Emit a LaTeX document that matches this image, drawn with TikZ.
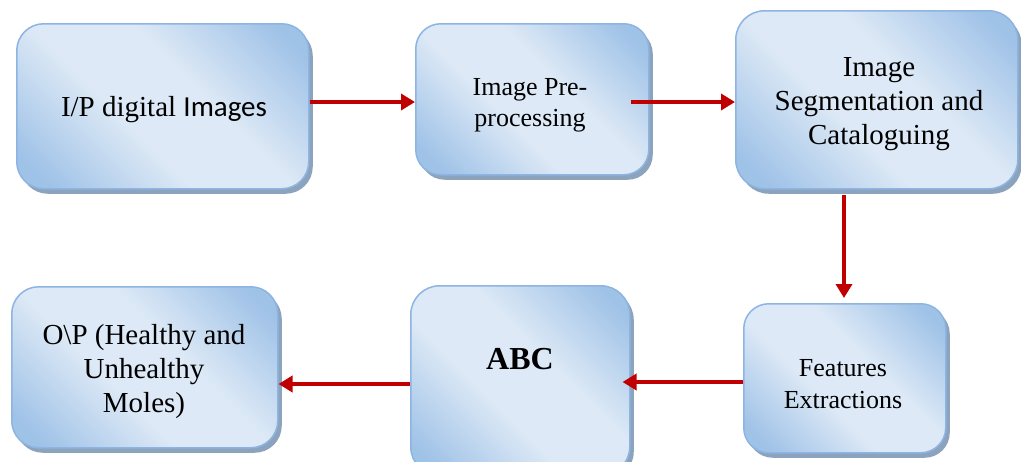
\documentclass[tikz,border=0pt]{standalone}
\usepackage{fontspec}
\setmainfont{Liberation Serif}
\newfontfamily\calibfont{Carlito}
\usetikzlibrary{shadows,arrows.meta}
\definecolor{bdark}{HTML}{9FC2E7}
\definecolor{blight}{HTML}{DDE9F6}
\definecolor{bborder}{HTML}{8DB4E2}
\definecolor{bshadow}{HTML}{8CA3BD}
\definecolor{arrred}{HTML}{C00000}
\pgfdeclarehorizontalshading{boxshade}{100bp}{color(0bp)=(bdark); color(20bp)=(bdark); color(42bp)=(blight); color(58bp)=(blight); color(80bp)=(bdark); color(100bp)=(bdark)}
\tikzset{
  procbox/.style={draw=bborder, line width=1.5pt, rounded corners=27pt,
    shading=boxshade, shading angle=45, anchor=north west, inner sep=0pt,
    drop shadow={shadow xshift=4pt, shadow yshift=-5pt, fill=bshadow, opacity=1}},
  boxtext/.style={align=center, inner sep=0pt},
  flow/.style={draw=arrred, line width=4.5pt, -{Triangle[length=14pt,width=16pt]}},
}
\begin{document}
\begin{tikzpicture}[x=1pt,y=-1pt]
\useasboundingbox (0,0) rectangle (1021,461);
\node[procbox, minimum width=292pt, minimum height=165pt] (b1) at (16,23) {};
\node[procbox, minimum width=233pt, minimum height=151pt, rounded corners=25pt] (b2) at (415,23) {};
\node[procbox, minimum width=282pt, minimum height=178pt, rounded corners=29pt] (b3) at (735,10) {};
\node[procbox, minimum width=202pt, minimum height=149pt, rounded corners=25pt] (b4) at (743,303) {};
\node[procbox, minimum width=219pt, minimum height=190pt, rounded corners=29pt] (b5) at (410,285) {};
\node[procbox, minimum width=266pt, minimum height=161pt] (b6) at (11,286) {};

\node[boxtext, font=\fontsize{29}{34}\selectfont] (t1) at (164,110) {I/P digital {\calibfont Images}};
\node[boxtext, font=\fontsize{26}{31}\selectfont] (t2) at (530,105) {Image Pre-\\processing};
\node[boxtext, font=\fontsize{29}{34}\selectfont] (t3) at (879,104) {Image\\Segmentation and\\Cataloguing};
\node[boxtext, font=\fontsize{26}{32}\selectfont] (t4) at (843,384) {Features\\Extractions};
\node[boxtext, font=\fontsize{32}{38}\selectfont\bfseries] (t5) at (520,359) {ABC};
\node[boxtext, font=\fontsize{29}{34}\selectfont] (t6) at (144,372) {O\textbackslash P (Healthy and\\Unhealthy\\Moles)};

\draw[flow] (b1.east |- 0,102) -- (b2.west |- 0,102);
\draw[flow] ([xshift=-19pt]b2.east |- 0,102) -- (b3.west |- 0,102);
\draw[flow] ([yshift=-5pt]b3.south -| 844,0) -- ([yshift=5pt]b4.north -| 844,0);
\draw[flow] (b4.west |- 0,382) -- ([xshift=-8pt]b5.east |- 0,382);
\draw[flow] (b5.west |- 0,384) -- (b6.east |- 0,384);
\end{tikzpicture}
\end{document}
